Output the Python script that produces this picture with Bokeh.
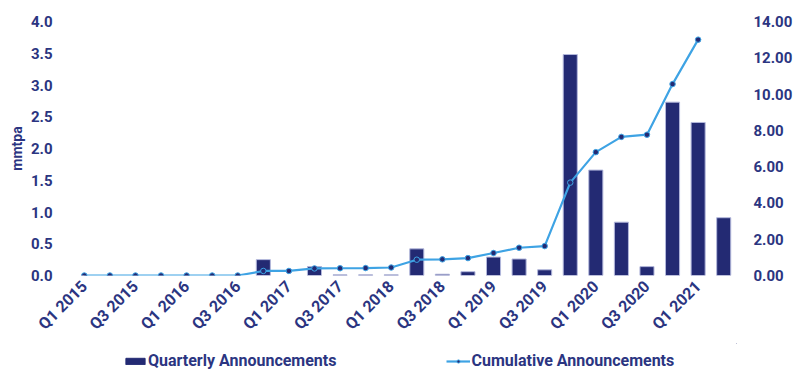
from bokeh.plotting import figure
from bokeh.layouts import column
from bokeh.models import (Range1d, LinearAxis, FixedTicker, Legend, LegendItem,
                          NumeralTickFormatter, ColumnDataSource)
from bokeh.embed import file_html
from bokeh.resources import INLINE

# ---- data ----
quarters = ["Q1 2015", "Q2 2015", "Q3 2015", "Q4 2015",
            "Q1 2016", "Q2 2016", "Q3 2016", "Q4 2016",
            "Q1 2017", "Q2 2017", "Q3 2017", "Q4 2017",
            "Q1 2018", "Q2 2018", "Q3 2018", "Q4 2018",
            "Q1 2019", "Q2 2019", "Q3 2019", "Q4 2019",
            "Q1 2020", "Q2 2020", "Q3 2020", "Q4 2020",
            "Q1 2021", "Q2 2021"]
quarterly = [0, 0, 0, 0, 0, 0, 0, 0.25,
             0, 0.14, 0.01, 0.01, 0.01, 0.42,
             0.02, 0.06, 0.29, 0.26, 0.09, 3.48,
             1.66, 0.84, 0.14, 2.73, 2.41, 0.91]
cumulative = [0, 0, 0, 0, 0, 0, 0, 0.25,
              0.25, 0.39, 0.40, 0.41, 0.44, 0.87,
              0.89, 0.96, 1.24, 1.53, 1.62, 5.12,
              6.80, 7.64, 7.76, 10.55, 13.0]
left_ticks = [0, 0.5, 1.0, 1.5, 2.0, 2.5, 3.0, 3.5, 4.0]
right_ticks = [0, 2, 4, 6, 8, 10, 12, 14]

NAVY = "#232a73"
BLUE = "#3ea3e4"
TXT = "#2b3581"
FONT = "Roboto"

idx = list(range(len(quarters)))
bar_src = ColumnDataSource(dict(
    x=idx, top=quarterly,
    la=[1.0 if v > 0 else 0.0 for v in quarterly]))
cum_src = ColumnDataSource(dict(x=idx[:len(cumulative)], y=cumulative))

p = figure(width=795, height=343, output_backend="svg", toolbar_location=None,
           x_range=Range1d(-0.5, len(quarters) - 0.5), y_range=Range1d(0, 4),
           min_border_left=71, min_border_right=59, min_border_top=21,
           min_border_bottom=65, outline_line_color=None,
           background_fill_color="white", border_fill_color="white")
p.extra_y_ranges = {"cum": Range1d(0, 14)}

bars = p.vbar(x="x", top="top", width=0.55, source=bar_src,
              fill_color=NAVY, line_color="#b3b8dc", line_alpha="la", line_width=1)
ln = p.line(x="x", y="y", source=cum_src, y_range_name="cum",
            line_color=BLUE, line_width=2.2)
pts = p.scatter(x="x", y="y", source=cum_src, y_range_name="cum", size=5.5,
                fill_color=NAVY, line_color=BLUE, line_width=1)

p.xgrid.visible = False
p.ygrid.visible = False

# x axis
xa = p.xaxis[0]
xa.ticker = FixedTicker(ticks=list(range(0, len(quarters), 2)))
xa.major_label_overrides = {i: quarters[i] for i in range(0, len(quarters), 2)}
xa.major_label_orientation = 0.785398
xa.major_label_standoff = 2

# left axis
ya = p.yaxis[0]
ya.ticker = FixedTicker(ticks=left_ticks)
ya.formatter = NumeralTickFormatter(format="0.0")
ya.axis_label = "mmtpa"
ya.major_label_standoff = 13
ya.axis_label_standoff = 3

# right axis
ra = LinearAxis(y_range_name="cum", ticker=FixedTicker(ticks=right_ticks),
                formatter=NumeralTickFormatter(format="0.00"))
ra.major_label_standoff = 11
p.add_layout(ra, "right")

for ax in [xa, ya, ra]:
    ax.axis_line_color = None
    ax.major_tick_line_color = None
    ax.minor_tick_line_color = None
    ax.major_label_text_color = TXT
    ax.major_label_text_font = FONT
    ax.major_label_text_font_size = "15px"
    ax.major_label_text_font_style = "bold"
xa.major_label_text_font_size = "16px"
ya.axis_label_text_color = TXT
ya.axis_label_text_font = FONT
ya.axis_label_text_font_size = "14px"
ya.axis_label_text_font_style = "bold"

# ---- legend strip below the chart (dummy glyphs lie outside its ranges) ----
lf = figure(width=795, height=30, output_backend="svg", toolbar_location=None,
            x_range=Range1d(0, 1), y_range=Range1d(0, 1),
            x_axis_type=None, y_axis_type=None, outline_line_color=None,
            min_border=0, background_fill_color="white", border_fill_color="white")
lf.xgrid.visible = False
lf.ygrid.visible = False
hidden = ColumnDataSource(dict(x=[5], y=[5], top=[5]))
lb = lf.vbar(x="x", top="top", bottom=4, width=0.5, source=hidden,
             fill_color=NAVY, line_color=NAVY)
ll = lf.line(x="x", y="y", source=hidden, line_color=BLUE, line_width=2.2)
lp = lf.scatter(x="x", y="y", source=hidden, size=5.5,
                fill_color=NAVY, line_color=BLUE, line_width=1)
legend = Legend(items=[LegendItem(label="Quarterly Announcements", renderers=[lb]),
                       LegendItem(label="Cumulative Announcements", renderers=[ll, lp])],
                orientation="horizontal", location=(52, 3), spacing=110,
                border_line_color=None, background_fill_alpha=0,
                label_text_font=FONT, label_text_font_size="16px",
                label_text_font_style="bold",
                label_text_color=TXT, glyph_width=24, glyph_height=8,
                label_height=18, padding=0, margin=0, label_standoff=1)
lf.add_layout(legend, "center")

layout = column(p, lf, spacing=0)
open("out.html", "w").write(file_html(layout, INLINE))
